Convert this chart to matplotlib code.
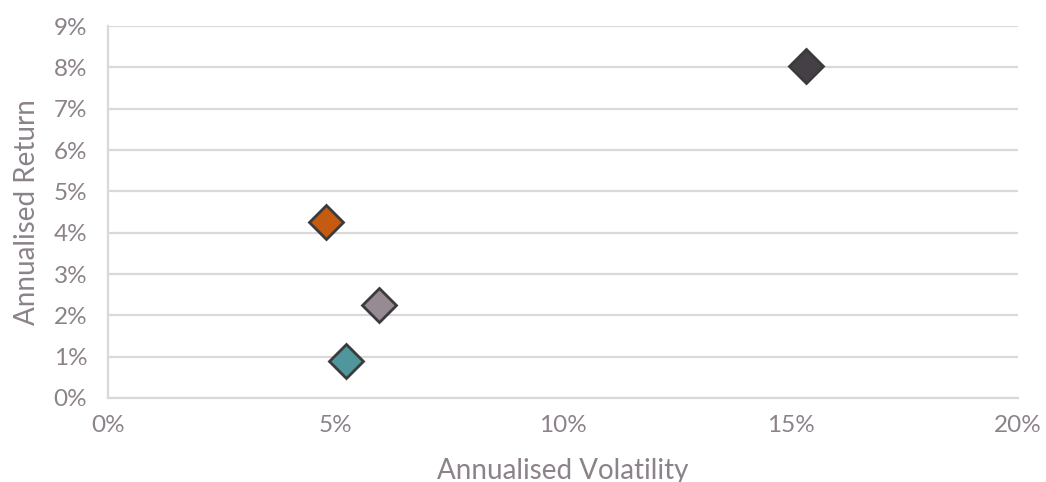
import matplotlib.pyplot as plt
from matplotlib.ticker import FuncFormatter

# annualised volatility / return per portfolio (in %)
volatility = [15.35, 4.8, 5.95, 5.22]
returns = [8.04, 4.26, 2.25, 0.9]
colors = ['#444045', '#c55a11', '#978b93', '#4f979c']

txt_col = '#8c8289'
grid_col = '#d9d9d9'

plt.rcParams['font.family'] = ['Lato', 'DejaVu Sans']

fig = plt.figure(figsize=(10.46, 4.82), dpi=100)
ax = fig.add_axes([0.1033, 0.1743, 0.8699, 0.7717])

for v, r, c in zip(volatility, returns, colors):
    ax.plot(v, r, marker='D', ms=17.5, color=c, mec='#3b3b3b', mew=2, ls='none', zorder=3)

ax.set_xlim(0, 20)
ax.set_ylim(0, 9)
ax.set_xticks(range(0, 21, 5))
ax.set_yticks(range(0, 10))
pct = FuncFormatter(lambda v, p: '%d%%' % v)
ax.xaxis.set_major_formatter(pct)
ax.yaxis.set_major_formatter(pct)

ax.grid(axis='y', color=grid_col, lw=1.6)
ax.set_axisbelow(True)
for s in ['top', 'right']:
    ax.spines[s].set_visible(False)
for s in ['left', 'bottom']:
    ax.spines[s].set_color(grid_col)
    ax.spines[s].set_linewidth(1.6)

ax.tick_params(length=0, labelsize=17.5, colors=txt_col)
ax.tick_params(axis='y', pad=15)
ax.tick_params(axis='x', pad=12)

ax.set_xlabel('Annualised Volatility', fontsize=20, color=txt_col, labelpad=16)
ax.set_ylabel('Annualised Return', fontsize=20, color=txt_col, labelpad=10)

fig.savefig('out.png', dpi=100)
